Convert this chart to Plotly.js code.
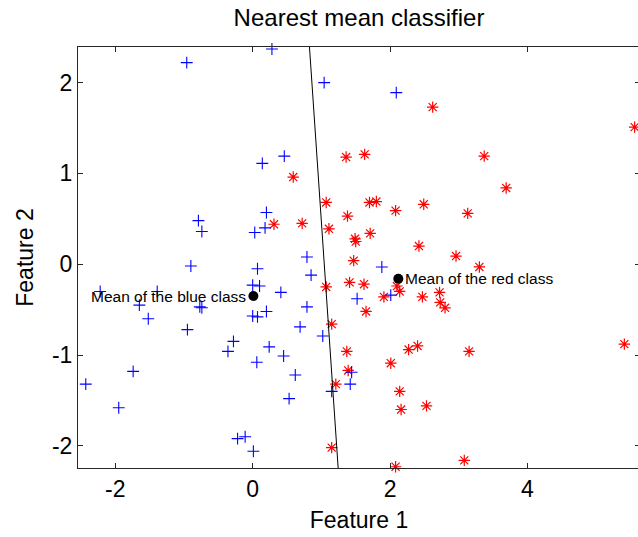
<!DOCTYPE html>
<html>
<head>
<meta charset="utf-8">
<script src="https://cdn.plot.ly/plotly-3.0.1.min.js"></script>
<style>
  html, body { margin: 0; padding: 0; overflow: hidden; background: #fff; }
  #chart { width: 640px; height: 537px; }
</style>
</head>
<body>
<div id="chart"></div>
<script>
// Blue class samples (feature 1, feature 2)
const blueX = [-0.96, 0.14, 0.28, 1.04, 2.09, 0.46, 0.20, -0.79, -0.74, 0.03,
               0.18, -0.90, 0.07, 0.00, 0.10, -2.22, -1.39, -1.65, -0.77, -0.74,
               -1.52, 0.20, 0.00, 0.07, -0.95, 0.79, 0.85, 1.88, 2.01, 0.41,
               0.79, 1.52, 0.69, -0.28, -0.36, 0.06, 0.24, -1.74, -2.43, -1.95,
               -0.22, -0.11, 0.01, 1.02, 0.45, 0.62, 0.53, 1.44, 1.42, 1.15];
const blueY = [2.22, 1.11, 2.37, 2.00, 1.89, 1.19, 0.57, 0.48, 0.36, 0.35,
               0.40, -0.02, -0.05, -0.23, -0.24, -0.30, -0.30, -0.45, -0.47, -0.48,
               -0.60, -0.52, -0.57, -0.58, -0.72, 0.08, -0.12, -0.03, -0.34, -0.31,
               -0.47, -0.38, -0.69, -0.85, -0.96, -1.08, -0.91, -1.18, -1.32, -1.58,
               -1.92, -1.90, -2.06, -0.79, -1.01, -1.22, -1.48, -1.19, -1.32, -1.40];

// Red class samples
const redX = [2.62, 0.59, 1.36, 1.63, 3.37, 3.69, 5.56, 0.31, 0.72, 1.07,
              1.11, 1.38, 1.70, 1.80, 2.08, 2.49, 1.49, 1.50, 1.71, 2.42,
              1.47, 1.07, 1.41, 1.62, 2.14, 1.91, 2.47, 2.72, 2.73, 2.80,
              1.65, 1.15, 3.13, 2.96, 3.30, 1.37, 1.39, 1.21, 1.15, 2.01,
              2.27, 2.40, 2.14, 2.16, 2.53, 2.08, 3.15, 5.41, 3.08, 2.10];
const redY = [1.73, 0.96, 1.18, 1.21, 1.19, 0.84, 1.51, 0.44, 0.45, 0.68,
              0.39, 0.53, 0.68, 0.69, 0.59, 0.66, 0.28, 0.25, 0.34, 0.20,
              0.04, -0.25, -0.20, -0.22, -0.30, -0.36, -0.36, -0.31, -0.42, -0.48,
              -0.52, -0.66, 0.56, 0.09, -0.03, -0.96, -1.17, -1.32, -2.02, -1.09,
              -0.94, -0.90, -1.40, -1.60, -1.56, -2.23, -0.96, -0.88, -2.16, -0.24];

// Class means
const blueMean = [0.01, -0.35];
const redMean = [2.12, -0.16];

// Axis extents and ticks
const xRange = [-2.543, 5.638];
const yRange = [-2.244, 2.392];
const xTicks = [-2, 0, 2, 4];
const xTickText = ['-2', '0', '2', '4'];
const yTicks = [-2, -1, 0, 1, 2];
const yTickText = ['-2', '-1', '0', '1', '2'];

// Decision boundary: perpendicular bisector of the two means
const dx = redMean[0] - blueMean[0];
const dy = redMean[1] - blueMean[1];
const cx = (redMean[0] + blueMean[0]) / 2;
const cy = (redMean[1] + blueMean[1]) / 2;
const boundaryY = [yRange[1], yRange[0]];
const boundaryX = boundaryY.map(y => cx - (dy / dx) * (y - cy));

const FONT = '"Liberation Sans", Arial, Helvetica, sans-serif';
const AXIS = '#262626';

const traces = [
  {
    x: redX, y: redY, type: 'scatter', mode: 'markers', cliponaxis: false,
    marker: { symbol: 'asterisk-open', size: 9.5, color: '#ff0000',
              line: { color: '#ff0000', width: 1.2 } },
    hoverinfo: 'skip'
  },
  {
    x: blueX, y: blueY, type: 'scatter', mode: 'markers', cliponaxis: false,
    marker: { symbol: 'cross-thin-open', size: 8.5, color: '#0000ff',
              line: { color: '#0000ff', width: 1.1 } },
    hoverinfo: 'skip'
  },
  {
    x: boundaryX, y: boundaryY, type: 'scatter', mode: 'lines',
    line: { color: '#000000', width: 1 }, hoverinfo: 'skip'
  },
  {
    x: [blueMean[0], redMean[0]], y: [blueMean[1], redMean[1]],
    type: 'scatter', mode: 'markers', cliponaxis: false,
    marker: { symbol: 'circle', size: 10, color: '#000000' },
    hoverinfo: 'skip'
  }
];

const layout = {
  width: 640, height: 537,
  margin: { l: 78, r: 0, t: 47, b: 69, pad: 0 },
  paper_bgcolor: '#ffffff', plot_bgcolor: '#ffffff',
  showlegend: false,
  font: { family: FONT, color: '#000000' },
  title: {
    text: 'Nearest mean classifier',
    font: { family: FONT, size: 24, color: '#000000' },
    x: 0.5, xref: 'paper', xanchor: 'center',
    y: 1 - 18 / 537, yref: 'container', yanchor: 'middle'
  },
  xaxis: {
    range: xRange, tickmode: 'array', tickvals: xTicks, ticktext: xTickText,
    ticks: 'inside', ticklen: 5, tickwidth: 1, tickcolor: AXIS,
    showline: true, linecolor: AXIS, linewidth: 1, mirror: 'ticks',
    showgrid: false, zeroline: false,
    tickfont: { family: FONT, size: 23, color: '#000000' },
    title: { text: 'Feature 1', font: { family: FONT, size: 23, color: '#000000' }, standoff: 11 },
    automargin: false
  },
  yaxis: {
    range: yRange, tickmode: 'array', tickvals: yTicks, ticktext: yTickText,
    ticks: 'inside', ticklen: 5, tickwidth: 1, tickcolor: AXIS,
    showline: true, linecolor: AXIS, linewidth: 1, mirror: 'ticks',
    showgrid: false, zeroline: false,
    tickfont: { family: FONT, size: 23, color: '#000000' },
    title: { text: 'Feature 2', font: { family: FONT, size: 23, color: '#000000' }, standoff: 11 },
    automargin: false
  },
  annotations: [
    {
      x: blueMean[0], y: blueMean[1], xref: 'x', yref: 'y',
      text: 'Mean of the blue class', showarrow: false,
      xanchor: 'right', yanchor: 'middle', xshift: -5,
      font: { family: FONT, size: 15.5, color: '#000000' }
    },
    {
      x: redMean[0], y: redMean[1], xref: 'x', yref: 'y',
      text: 'Mean of the red class', showarrow: false,
      xanchor: 'left', yanchor: 'middle', xshift: 5,
      font: { family: FONT, size: 15.5, color: '#000000' }
    }
  ]
};

Plotly.newPlot('chart', traces, layout, { staticPlot: true, displayModeBar: false });
</script>
</body>
</html>
